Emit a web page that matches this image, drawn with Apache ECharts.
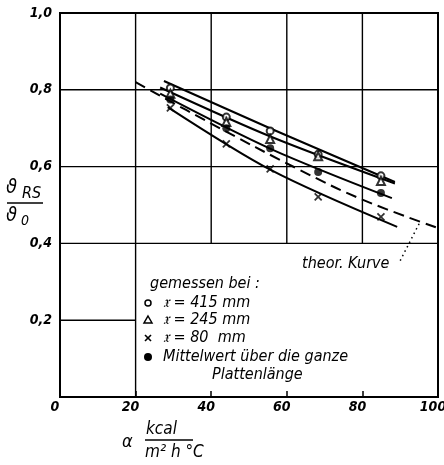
<!DOCTYPE html>
<html><head><meta charset="utf-8">
<script src="https://cdn.jsdelivr.net/npm/echarts/dist/echarts.min.js"></script>
<style>html,body{margin:0;padding:0;background:#fff}#c{width:444px;height:465px}</style>
</head><body><div id="c"></div>
<script>
// measured points (alpha in kcal/m2 h °C)
const alpha = [29.2, 44.0, 55.6, 68.3, 84.9];
const val415 = [0.805, 0.729, 0.693, 0.632, 0.576];
const val245 = [0.790, 0.716, 0.672, 0.627, 0.5625];
const val80 = [0.753, 0.659, 0.594, 0.521, 0.469];
const valMean = [0.775, 0.700, 0.648, 0.586, 0.531];
// fitted curves
const fit415X = [27.5, 56, 88.6], fit415Y = [0.823, 0.698, 0.560];
const fit245X = [26.5, 56, 88.6], fit245Y = [0.806, 0.677, 0.556];
const fitMeanX = [26.5, 56, 87.8], fitMeanY = [0.790, 0.645, 0.518];
const fit80X = [28.5, 56, 89.2], fit80Y = [0.755, 0.590, 0.443];
// theoretical curve
const theoX = [20, 40, 63.5, 80, 100], theoY = [0.820, 0.712, 0.591, 0.514, 0.440];
// leader from label to theoretical curve
const leaderX = [90.0, 95.2], leaderY = [0.355, 0.455];
// axis ticks
const xTicks = [0, 20, 40, 60, 80, 100];
const yTicks = ['0', '0,2', '0,4', '0,6', '0,8', '1,0'];
// grid lines: [x1,y1,x2,y2]
const gridSegs = [
  [0,0.8,100,0.8],[0,0.6,100,0.6],[0,0.4,100,0.4],[0,0.2,20,0.2],
  [20,0,20,1],[40,0.4,40,1],[60,0.4,60,1],[80,0.4,80,1]
];

const zip = (xs, ys) => xs.map((x, i) => [x, ys[i]]);
const FONT = "'Liberation Sans Narrow','DejaVu Sans Condensed','DejaVu Sans',sans-serif";
const chart = echarts.init(document.getElementById('c'), null, {renderer:'canvas'});
const series = [];
gridSegs.forEach(s => series.push({type:'line', data:[[s[0],s[1]],[s[2],s[3]]], showSymbol:false, silent:true,
  lineStyle:{color:'#000', width:1.4}, z:1}));
[[fit415X,fit415Y],[fit245X,fit245Y],[fitMeanX,fitMeanY],[fit80X,fit80Y]].forEach(f => series.push({
  type:'line', data:zip(f[0],f[1]), smooth:0.3, showSymbol:false, lineStyle:{color:'#000', width:2}, z:2}));
series.push({type:'line', data:zip(theoX,theoY), smooth:0.4, showSymbol:false, lineStyle:{color:'#000', width:2, type:[11,6]}, z:2});
series.push({type:'line', data:zip(leaderX,leaderY), showSymbol:false, lineStyle:{color:'#000', width:1.5, type:[1.5,3.5]}, z:2});
series.push({type:'scatter', data:zip(alpha,val415), symbol:'emptyCircle', symbolSize:7, itemStyle:{color:'#000', borderWidth:1.5}, z:5});
series.push({type:'scatter', data:zip(alpha,val245), symbol:'emptyTriangle', symbolSize:8, itemStyle:{color:'#000', borderWidth:1.5}, z:5});
series.push({type:'scatter', data:zip(alpha,val80), symbol:'path://M0,0L10,10M10,0L0,10', symbolSize:7, itemStyle:{color:'transparent', borderColor:'#000', borderWidth:1.8}, z:5});
series.push({type:'scatter', data:zip(alpha,valMean), symbol:'circle', symbolSize:8, itemStyle:{color:'#000'}, z:5});

const txt = (x, y, t, size, extra) => Object.assign({type:'text', x:x, y:y, style:Object.assign({text:t, fill:'#000', font:'italic ' + size + 'px ' + FONT, textVerticalAlign:'middle'}, extra||{})});
const legY = [303, 320, 338, 357];
const graphic = [
  txt(150, 284, 'gemessen bei :', 16),
  {type:'circle', shape:{cx:148, cy:legY[0], r:3}, style:{fill:'#fff', stroke:'#000', lineWidth:1.5}},
  txt(163, legY[0], '\u{1D535} = 415 mm', 16),
  {type:'polygon', shape:{points:[[148,legY[1]-4],[152,legY[1]+3],[144,legY[1]+3]]}, style:{fill:'#fff', stroke:'#000', lineWidth:1.5}},
  txt(163, legY[1], '\u{1D535} = 245 mm', 16),
  {type:'polyline', shape:{points:[[145,legY[2]-3],[151,legY[2]+3]]}, style:{stroke:'#000', lineWidth:1.6}},
  {type:'polyline', shape:{points:[[151,legY[2]-3],[145,legY[2]+3]]}, style:{stroke:'#000', lineWidth:1.6}},
  txt(163, legY[2], '\u{1D535} = 80  mm', 16),
  {type:'circle', shape:{cx:148, cy:legY[3], r:4}, style:{fill:'#000'}},
  txt(163, legY[3], 'Mittelwert über die ganze', 16),
  txt(212, 375, 'Plattenlänge', 16),
  txt(302, 264, 'theor. Kurve', 16),
  // y-axis title
  txt(6, 188, '\u03D1', 20),
  txt(22, 194, 'RS', 16),
  {type:'line', shape:{x1:7, y1:203, x2:43, y2:203}, style:{stroke:'#000', lineWidth:1.5}},
  txt(6, 216, '\u03D1', 20),
  txt(21, 221, '0', 14),
  // x-axis title
  txt(122, 442, '\u03B1', 18),
  txt(146, 430, 'kcal', 17),
  {type:'line', shape:{x1:145, y1:440, x2:193, y2:440}, style:{stroke:'#000', lineWidth:1.5}},
  txt(145, 453, 'm² h °C', 17)
];

chart.setOption({
  animation:false,
  backgroundColor:'#fff',
  grid:{left:60, right:6, top:13, bottom:68, show:true, borderColor:'#000', borderWidth:2, backgroundColor:'transparent',
    containLabel:false, outerBoundsMode:'none'},
  xAxis:{type:'value', min:0, max:100, interval:20,
    axisLine:{show:false}, splitLine:{show:false},
    axisTick:{show:true, inside:true, length:6, lineStyle:{color:'#000', width:1.5}},
    axisLabel:{color:'#000', fontStyle:'italic', fontWeight:'bold', fontSize:14, fontFamily:FONT, margin:3, padding:[0,10,0,0],
      showMaxLabel:true, showMinLabel:true, formatter:v => String(xTicks[Math.round(v/20)])}},
  yAxis:{type:'value', min:0, max:1, interval:0.2,
    axisLine:{show:false}, splitLine:{show:false}, axisTick:{show:false},
    axisLabel:{color:'#000', fontStyle:'italic', fontWeight:'bold', fontSize:14, fontFamily:FONT, margin:8,
      showMaxLabel:true, formatter:v => { const i = Math.round(v/0.2); return i === 0 ? '' : yTicks[i]; }}},
  series:series,
  graphic:graphic
});
</script></body></html>
